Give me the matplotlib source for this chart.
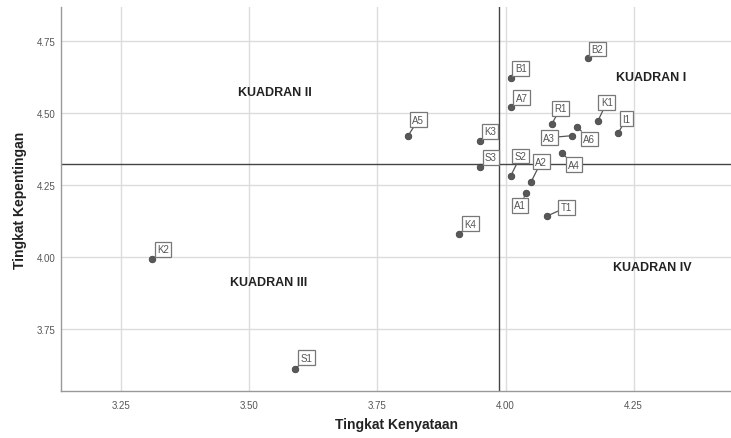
import numpy as np
import matplotlib
matplotlib.use("Agg")
import matplotlib.pyplot as plt

# data: attribute codes, performance (x) and importance (y)
codes = ["B2", "B1", "A7", "R1", "K1", "I1", "A6", "A3", "A5", "K3",
         "S3", "S2", "A2", "A4", "A1", "T1", "K4", "K2", "S1"]
kenyataan = [4.16, 4.01, 4.01, 4.09, 4.18, 4.22, 4.14, 4.13, 3.81, 3.95,
             3.95, 4.01, 4.05, 4.11, 4.04, 4.08, 3.91, 3.31, 3.59]
kepentingan = [4.69, 4.62, 4.52, 4.46, 4.47, 4.43, 4.45, 4.42, 4.42, 4.40,
               4.31, 4.28, 4.26, 4.36, 4.22, 4.14, 4.08, 3.99, 3.61]

x_ticks = [3.25, 3.50, 3.75, 4.00, 4.25]
y_ticks = [3.75, 4.00, 4.25, 4.50, 4.75]

# label offsets in pixels (dx right, dy down)
offsets = {
    "B2": (10, -9), "B1": (10, -10), "A7": (11, -9), "R1": (9, -16),
    "K1": (9, -19), "I1": (8, -14), "A6": (12, 12), "A3": (-23, 2),
    "A5": (10, -16), "K3": (10, -10), "S3": (11, -10), "S2": (10, -20),
    "A2": (10, -20), "A4": (12, 12), "A1": (-6, 12), "T1": (20, -9),
    "K4": (11, -10), "K2": (11, -10), "S1": (11, -11),
}

plt.rcParams['font.family'] = ['Liberation Sans', 'DejaVu Sans']

fig = plt.figure(figsize=(7.31, 4.39), dpi=100)
ax = fig.add_axes([0.0839, 0.1071, 0.9161, 0.8747])

ax.set_xlim(3.133, 4.44)
ax.set_ylim(3.533, 4.867)
ax.set_xticks(x_ticks)
ax.set_yticks(y_ticks)
ax.set_xticklabels([f"{v:.2f}" for v in x_ticks])
ax.set_yticklabels([f"{v:.2f}" for v in y_ticks])
ax.tick_params(length=0, labelsize=7, labelcolor="#555555")
ax.tick_params(axis="x", pad=6.5)
ax.tick_params(axis="y", pad=4)
ax.grid(True, color="#dcdcdc", lw=1)
ax.set_axisbelow(True)

for s in ["top", "right"]:
    ax.spines[s].set_visible(False)
for s in ["left", "bottom"]:
    ax.spines[s].set_color("#999999")
    ax.spines[s].set_linewidth(1)

mx = np.mean(kenyataan)
my = np.mean(kepentingan)
ax.axvline(mx, color="#444444", lw=1, zorder=2)
ax.axhline(my, color="#444444", lw=1, zorder=2)

ax.scatter(kenyataan, kepentingan, s=22, color="#595959", edgecolor="#444444",
           lw=0.6, zorder=4)

px = 72 / fig.dpi
for c, xv, yv in zip(codes, kenyataan, kepentingan):
    dx, dy = offsets[c]
    ax.annotate(c, (xv, yv), xytext=(dx * px, -dy * px), textcoords="offset points",
                ha="center", va="center", fontsize=7, color="#555555", zorder=5,
                bbox=dict(boxstyle="square,pad=0.25", fc="white", ec="#777777", lw=0.9),
                arrowprops=dict(arrowstyle="-", color="#555555", lw=0.9,
                                shrinkA=0, shrinkB=0))

quad = [("KUADRAN I", 4.216, 4.625), ("KUADRAN II", 3.478, 4.571),
        ("KUADRAN III", 3.463, 3.912), ("KUADRAN IV", 4.210, 3.964)]
for t, xq, yq in quad:
    ax.text(xq, yq, t, fontsize=9, fontweight="bold", color="#222222",
            ha="left", va="center", zorder=3)

ax.set_xlabel("Tingkat Kenyataan", fontsize=10, fontweight="bold", color="#222222",
              labelpad=5)
ax.set_ylabel("Tingkat Kepentingan", fontsize=10, fontweight="bold", color="#222222",
              labelpad=7)

fig.savefig("out.png", dpi=100)
